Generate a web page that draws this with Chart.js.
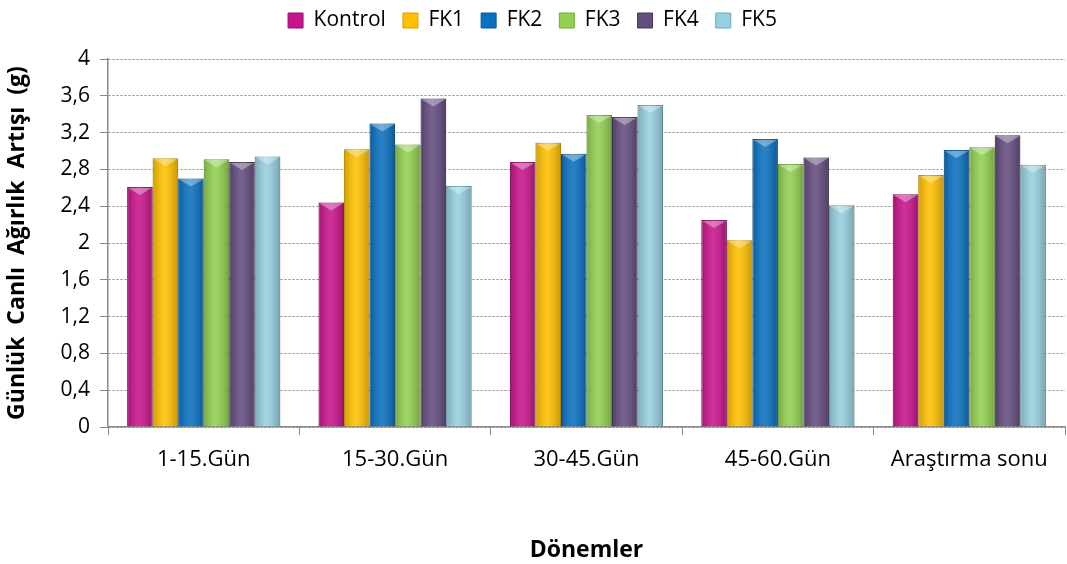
<!DOCTYPE html>
<html>
<head>
<meta charset="utf-8">
<script src="https://cdn.jsdelivr.net/npm/chart.js@4"></script>
<style>
  html, body { margin: 0; padding: 0; background: #fff; }
  #wrap { width: 1067px; height: 564px; }
</style>
</head>
<body>
<div id="wrap"><canvas id="growthChart"></canvas></div>
<script>
const periods = ['1-15.Gün', '15-30.Gün', '30-45.Gün', '45-60.Gün', 'Araştırma sonu'];
const kontrol = [2.61, 2.44, 2.88, 2.25, 2.53];
const fk1 = [2.92, 3.02, 3.09, 2.03, 2.74];
const fk2 = [2.70, 3.30, 2.97, 3.13, 3.01];
const fk3 = [2.91, 3.07, 3.39, 2.86, 3.04];
const fk4 = [2.88, 3.57, 3.37, 2.93, 3.17];
const fk5 = [2.94, 2.62, 3.50, 2.41, 2.85];

const font = "'Open Sans', 'Noto Sans', sans-serif";

function series(label, data, color, edge) {
    return {
        label: label,
        data: data,
        backgroundColor: color,
        borderColor: edge,
        borderWidth: 1,
        barPercentage: 1,
        categoryPercentage: 0.8
    };
}

// soft shading + bevelled top so the bars look a bit like the office 3d style
const bevelBars = {
    id: 'bevelBars',
    afterDatasetsDraw(chart) {
        const c = chart.ctx;
        chart.data.datasets.forEach((ds, i) => {
            chart.getDatasetMeta(i).data.forEach(bar => {
                const p = bar.getProps(['x', 'y', 'base', 'width'], true);
                const left = p.x - p.width / 2;
                const right = p.x + p.width / 2;
                const g = c.createLinearGradient(left, 0, right, 0);
                g.addColorStop(0, 'rgba(0,0,0,0.18)');
                g.addColorStop(0.45, 'rgba(255,255,255,0.12)');
                g.addColorStop(1, 'rgba(0,0,0,0.22)');
                c.save();
                c.fillStyle = g;
                c.fillRect(left, p.y, p.width, p.base - p.y);
                c.fillStyle = 'rgba(255,255,255,0.35)';
                c.beginPath();
                c.moveTo(left + 1, p.y + 1);
                c.lineTo(right - 1, p.y + 1);
                c.lineTo(p.x, p.y + 8);
                c.closePath();
                c.fill();
                c.restore();
            });
        });
    }
};

// extra room under the legend
const legendGap = {
    id: 'legendGap',
    beforeInit(chart) {
        const fit = chart.legend.fit;
        chart.legend.fit = function () {
            fit.bind(chart.legend)();
            this.height += 18;
        };
    }
};

const ctx = document.getElementById('growthChart');
new Chart(ctx, {
    type: 'bar',
    data: {
        labels: periods,
        datasets: [
            series('Kontrol', kontrol, '#C8148C', '#9a0f6b'),
            series('FK1', fk1, '#FFC000', '#d9a000'),
            series('FK2', fk2, '#0A70C0', '#075796'),
            series('FK3', fk3, '#92D050', '#74ad3a'),
            series('FK4', fk4, '#634C7E', '#4a385f'),
            series('FK5', fk5, '#96D0E0', '#6aaabd')
        ]
    },
    plugins: [bevelBars, legendGap],
    options: {
        responsive: true,
        maintainAspectRatio: false,
        animation: false,
        layout: { padding: { top: -7, right: 2, bottom: 0, left: 0 } },
        plugins: {
            legend: {
                position: 'top',
                labels: {
                    font: { family: font, size: 21 },
                    color: '#000',
                    boxWidth: 15,
                    boxHeight: 15,
                    padding: 17
                }
            },
            tooltip: { enabled: false }
        },
        scales: {
            y: {
                min: 0,
                max: 4,
                ticks: {
                    stepSize: 0.4,
                    color: '#000',
                    font: { family: font, size: 21 },
                    padding: 10,
                    callback: v => String(Number(v.toFixed(1))).replace('.', ',')
                },
                grid: {
                    color: '#888',
                    borderDash: [2, 2],
                    tickColor: '#888',
                    tickLength: 8,
                    tickBorderDash: []
                },
                border: { color: '#888', width: 1.5, dash: [2, 2] },
                title: {
                    display: true,
                    text: 'Günlük  Canlı  Ağırlık  Artışı  (g)',
                    color: '#000',
                    font: { family: font, size: 23, weight: 'bold' },
                    padding: { top: 4, bottom: 0 }
                },
                afterFit: s => { s.width = 108; }
            },
            x: {
                ticks: {
                    color: '#000',
                    font: { family: font, size: 22 },
                    padding: 12
                },
                grid: {
                    drawOnChartArea: false,
                    tickColor: '#888',
                    tickLength: 8,
                    offset: true
                },
                border: { color: '#888', width: 1.5 },
                title: {
                    display: true,
                    text: 'Dönemler',
                    color: '#000',
                    font: { family: font, size: 23, weight: 'bold' },
                    padding: { top: 0, bottom: 0 }
                },
                afterFit: s => { s.height = 137; }
            }
        }
    }
});
</script>
</body>
</html>
